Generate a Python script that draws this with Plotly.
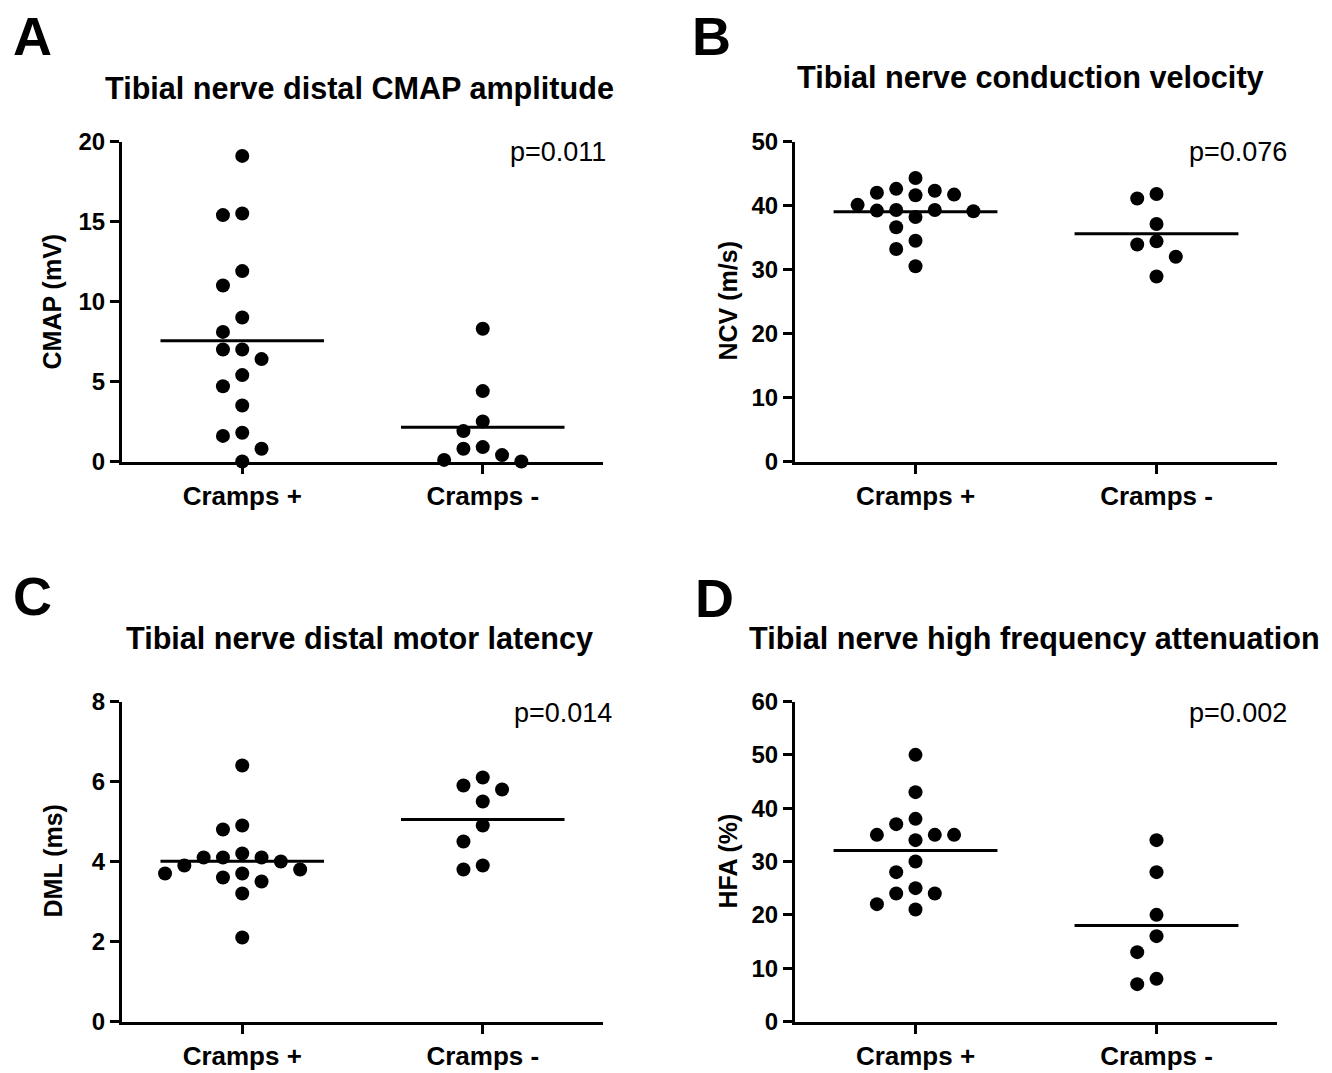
import numpy as np
import plotly.graph_objects as go

# ---------------- data ----------------
categories = ["Cramps +", "Cramps -"]

cmap_plus = [19.1, 15.5, 15.4, 11.9, 11.0, 9.0, 8.1, 7.0, 7.0, 6.4, 5.4, 4.7, 3.5, 1.8, 1.6, 0.8, 0.0]
cmap_minus = [8.3, 4.4, 2.5, 1.9, 0.9, 0.8, 0.4, 0.1, 0.0]

ncv_plus = [44.3, 42.3, 41.7, 41.6, 42.0, 42.6, 40.1, 39.3, 39.3, 39.1, 39.2, 38.2, 36.6, 34.5, 33.2, 30.5]
ncv_minus = [41.8, 41.1, 37.1, 34.4, 33.9, 32.0, 28.9]

dml_plus = [6.4, 4.8, 4.9, 4.2, 4.1, 4.1, 4.1, 4.0, 3.9, 3.8, 3.5, 3.7, 3.7, 3.6, 3.2, 2.1]
dml_minus = [6.1, 5.9, 5.8, 5.5, 4.9, 4.5, 3.9, 3.8]

hfa_plus = [50, 43, 38, 37, 35, 35, 35, 34, 30, 28, 25, 24, 24, 22, 21]
hfa_minus = [34, 28, 20, 16, 13, 8, 7]

panel_letters = ["A", "B", "C", "D"]
panel_titles = [
    "Tibial nerve distal CMAP amplitude",
    "Tibial nerve conduction velocity",
    "Tibial nerve distal motor latency",
    "Tibial nerve high frequency attenuation",
]
y_titles = ["CMAP (mV)", "NCV (m/s)", "DML (ms)", "HFA (%)"]
p_values = ["p=0.011", "p=0.076", "p=0.014", "p=0.002"]
y_ranges = [(0, 20), (0, 50), (0, 8), (0, 60)]
y_dticks = [5, 10, 2, 10]

groups = [
    (cmap_plus, cmap_minus),
    (ncv_plus, ncv_minus),
    (dml_plus, dml_minus),
    (hfa_plus, hfa_minus),
]

# ---------------- layout geometry (pixels of the final screenshot) ----------------
W, H = 1332, 1073
PAGE_OFF = 0  # body margin removed by the post script below
def px(x):
    return (x - PAGE_OFF) / W
def py(y):
    return 1 - (y - PAGE_OFF) / H

panel_boxes = [  # left, right, top, bottom in pixels
    (122, 603, 141.5, 461.5),
    (795, 1277, 141.5, 461.5),
    (122, 603, 701.5, 1021.5),
    (795, 1277, 701.5, 1021.5),
]
letter_pos = [(11, 36), (690, 36), (11, 596), (693, 598)]
title_pos = [(359, 88), (1030, 78), (359, 638), (1034, 638)]
title_sizes = [30.6, 30.7, 30.6, 30.6]
p_pos = [(608, 152), (1289, 152), (614, 713), (1289, 713)]
ytitle_x = [51, 727, 52, 727]

FONT = "Liberation Sans"
SLOT_PX = 19.3     # horizontal spacing of swarm columns
GAP_PX = 17.0      # vertical distance below which points collide
HALF_W = 0.34      # half width of mean line (category units)


def swarm_offsets(values, yspan, ypx, xpx_per_cat):
    """Greedy beeswarm: returns horizontal offsets (category units)."""
    thr = GAP_PX * yspan / ypx
    order = sorted(range(len(values)), key=lambda i: -values[i])
    cands = [0]
    for n in range(1, 30):
        cands += [-n, n]
    placed = []
    slots = [0] * len(values)
    for i in order:
        v = values[i]
        for c in cands:
            if all(not (s == c and abs(v - pv) < thr) for pv, s in placed):
                slots[i] = c
                placed.append((v, c))
                break
    step = SLOT_PX / xpx_per_cat
    return [s * step for s in slots]


fig = go.Figure()
layout_axes = {}
annotations = []

for k in range(4):
    left, right, top, bottom = panel_boxes[k]
    ax = "" if k == 0 else str(k + 1)
    xname, yname = "x" + ax, "y" + ax
    y0, y1 = y_ranges[k]
    xpx_per_cat = (right - left) / 2.0
    for ci, vals in enumerate(groups[k]):
        offs = swarm_offsets(vals, y1 - y0, bottom - top, xpx_per_cat)
        xs = [ci + o for o in offs]
        fig.add_trace(go.Scatter(
            x=xs, y=vals, mode="markers", xaxis=xname, yaxis=yname,
            marker=dict(color="black", size=14, line=dict(width=0)),
            cliponaxis=False, showlegend=False, hoverinfo="y"))
        m = float(np.mean(vals))
        fig.add_trace(go.Scatter(
            x=[ci - HALF_W, ci + HALF_W], y=[m, m], mode="lines",
            xaxis=xname, yaxis=yname, line=dict(color="black", width=3),
            cliponaxis=False, showlegend=False, hoverinfo="skip"))

    layout_axes["xaxis" + ax] = dict(
        domain=[px(left), px(right)], anchor=yname, range=[-0.5, 1.5],
        tickmode="array", tickvals=[0, 1], ticktext=categories,
        showline=True, linecolor="black", linewidth=3, mirror=False,
        ticks="outside", ticklen=9, tickwidth=3, tickcolor="black",
        showgrid=False, zeroline=False, fixedrange=True, automargin=False,
        tickfont=dict(family=FONT, size=26, color="black", weight="bold"))
    layout_axes["yaxis" + ax] = dict(
        domain=[py(bottom), py(top)], anchor=xname, range=[y0, y1],
        tickmode="linear", tick0=0, dtick=y_dticks[k],
        showline=True, linecolor="black", linewidth=3,
        ticks="outside", ticklen=9, tickwidth=3, tickcolor="black",
        showgrid=False, zeroline=False, fixedrange=True, automargin=False,
        tickfont=dict(family=FONT, size=24, color="black", weight="bold"))

    lx, ly = letter_pos[k]
    annotations.append(dict(
        text=panel_letters[k], x=px(lx), y=py(ly), xref="paper", yref="paper",
        xanchor="left", yanchor="middle", showarrow=False,
        font=dict(family=FONT, size=54, color="black", weight="bold")))
    tx, ty = title_pos[k]
    annotations.append(dict(
        text=panel_titles[k], x=px(tx), y=py(ty), xref="paper", yref="paper",
        xanchor="center", yanchor="middle", showarrow=False,
        font=dict(family=FONT, size=title_sizes[k], color="black", weight="bold")))
    ppx, ppy = p_pos[k]
    annotations.append(dict(
        text=p_values[k], x=px(ppx), y=py(ppy), xref="paper", yref="paper",
        xanchor="right", yanchor="middle", showarrow=False,
        font=dict(family=FONT, size=27, color="black")))
    annotations.append(dict(
        text=y_titles[k], x=px(ytitle_x[k]), y=py((top + bottom) / 2),
        xref="paper", yref="paper", xanchor="center", yanchor="middle",
        textangle=-90, showarrow=False,
        font=dict(family=FONT, size=25, color="black", weight="bold")))

fig.update_layout(
    width=W, height=H, margin=dict(l=0, r=0, t=0, b=0, pad=0, autoexpand=False),
    paper_bgcolor="white", plot_bgcolor="white", hovermode=False,
    annotations=annotations, showlegend=False, **layout_axes)

fig.write_html("out.html",
               config={"displayModeBar": False, "staticPlot": True},
               post_script="document.body.style.margin='0px';")
